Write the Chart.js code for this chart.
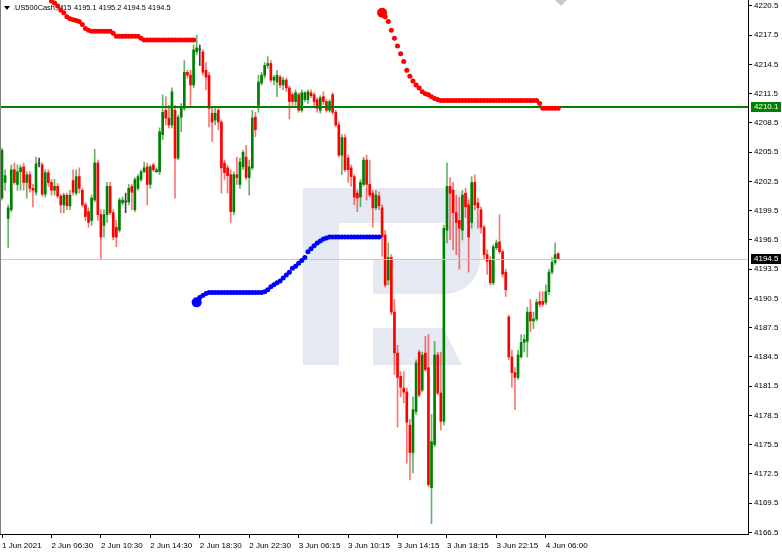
<!DOCTYPE html>
<html><head><meta charset="utf-8">
<script src="https://cdn.jsdelivr.net/npm/chart.js@4.4.1/dist/chart.umd.min.js"></script>
<style>html,body{margin:0;padding:0;background:#fff;}#wrap{width:782px;height:553px;position:relative;}</style>
</head><body><div id="wrap"><canvas id="c"></canvas></div>
<script>
const symbolTitle = ".US500Cash,M15";
const lastOHLC = [4195.1, 4195.2, 4194.5, 4194.5];
const levelPrice = 4210.1;
const bidPrice = 4194.5;

const opens = [4200.8,4202.4,4198.7,4199.6,4203.7,4202.2,4203.5,4204.0,4202.4,4203.2,
4201.8,4201.4,4204.3,4204.2,4201.2,4203.4,4202.4,4201.6,4202.0,4201.0,
4200.1,4201.1,4200.0,4202.6,4201.3,4203.0,4201.6,4200.1,4199.4,4198.5,
4200.6,4204.4,4199.1,4198.0,4199.1,4202.0,4199.3,4197.8,4197.5,4200.3,
4200.4,4200.4,4202.0,4199.6,4201.8,4202.7,4203.5,4204.0,4202.2,4204.2,
4203.5,4203.5,4207.3,4209.8,4209.0,4208.3,4209.8,4204.9,4209.1,4210.0,
4213.7,4213.4,4212.4,4215.8,4216.0,4215.8,4213.9,4213.4,4209.5,4208.8,
4209.8,4208.6,4204.4,4203.9,4203.2,4199.4,4203.2,4202.2,4204.0,4205.0,
4202.9,4203.9,4209.1,4210.3,4212.6,4213.4,4214.4,4214.6,4212.9,4212.7,
4213.2,4212.4,4212.9,4212.1,4211.4,4210.7,4211.4,4209.8,4210.9,4210.9,
4211.6,4211.4,4210.9,4209.8,4211.2,4210.7,4209.8,4211.4,4209.6,4208.3,
4205.2,4207.0,4204.9,4203.9,4203.0,4201.3,4200.9,4202.2,4204.7,4202.2,
4201.3,4199.8,4201.0,4199.8,4197.0,4192.4,4194.7,4189.1,4184.9,4182.5,
4181.3,4180.9,4177.5,4174.7,4178.9,4185.0,4181.1,4184.9,4183.4,4171.1,
4175.5,4184.7,4180.8,4177.9,4197.5,4202.0,4201.6,4199.3,4198.5,4197.5,
4201.3,4200.1,4198.3,4202.4,4200.3,4199.6,4197.8,4195.0,4194.5,4192.1,
4195.7,4196.3,4195.3,4193.2,4188.6,4184.5,4182.9,4182.4,4184.5,4186.0,
4186.1,4189.1,4188.2,4188.4,4190.2,4190.2,4190.1,4191.2,4193.2,4194.2,
4195.1];
const highs = [4205.9,4203.7,4200.1,4204.2,4204.4,4204.2,4204.2,4204.4,4203.5,4203.5,
4202.2,4205.0,4204.9,4204.4,4203.7,4203.7,4202.7,4202.7,4202.3,4201.2,
4201.3,4201.3,4201.6,4203.7,4203.7,4203.9,4201.8,4200.3,4199.8,4201.1,
4205.8,4204.7,4199.6,4199.6,4202.4,4202.4,4199.6,4198.5,4200.8,4200.9,
4201.3,4202.2,4202.2,4202.9,4203.2,4203.7,4204.5,4204.4,4204.2,4204.4,
4203.9,4208.0,4211.4,4211.2,4210.3,4212.1,4210.3,4209.3,4210.5,4214.9,
4213.9,4213.9,4216.5,4217.5,4216.5,4216.0,4214.7,4213.7,4210.0,4210.0,
4210.1,4208.8,4204.7,4204.2,4203.7,4203.5,4205.0,4204.9,4205.7,4206.2,
4204.7,4209.8,4209.6,4213.4,4213.7,4214.7,4215.3,4214.9,4213.4,4213.9,
4213.4,4213.2,4213.1,4212.3,4211.6,4211.9,4211.6,4211.9,4211.7,4211.9,
4211.9,4211.6,4211.1,4211.3,4211.7,4210.9,4210.9,4211.6,4209.8,4208.6,
4207.3,4207.3,4205.2,4204.2,4203.2,4201.6,4202.7,4205.0,4205.2,4204.7,
4201.6,4201.6,4201.4,4200.1,4197.5,4196.2,4195.0,4190.4,4185.7,4183.0,
4183.0,4181.3,4178.1,4180.4,4184.2,4185.2,4185.0,4186.6,4186.8,4178.6,
4186.1,4185.0,4185.0,4198.0,4204.4,4202.9,4202.4,4201.1,4200.9,4201.6,
4201.8,4200.6,4203.0,4203.2,4200.8,4199.9,4198.0,4195.5,4194.8,4196.0,
4196.5,4199.1,4195.5,4193.5,4188.8,4185.2,4183.4,4185.2,4186.8,4186.8,
4189.6,4190.4,4189.1,4190.4,4191.2,4191.2,4191.9,4193.5,4194.7,4196.2,
4195.2];
const lows = [4200.6,4201.6,4195.7,4199.4,4202.2,4201.6,4201.6,4201.6,4200.8,4201.4,
4199.9,4201.1,4204.0,4201.0,4200.9,4202.0,4201.1,4201.1,4200.8,4199.3,
4199.3,4199.6,4199.6,4201.1,4201.1,4201.3,4199.9,4198.5,4197.8,4198.0,
4200.4,4198.5,4194.5,4196.8,4198.3,4199.1,4196.5,4195.8,4197.3,4200.1,
4199.3,4200.1,4199.6,4199.4,4201.6,4202.5,4203.4,4200.1,4201.8,4203.5,
4203.4,4203.2,4206.8,4208.3,4208.0,4208.0,4200.8,4204.7,4207.6,4209.8,
4213.1,4210.3,4212.1,4215.5,4214.4,4213.4,4211.9,4208.1,4206.6,4208.3,
4207.8,4201.3,4202.7,4201.3,4198.3,4199.1,4202.2,4201.8,4203.7,4202.7,
4201.1,4203.7,4207.1,4209.6,4212.4,4213.1,4214.1,4212.7,4212.4,4211.2,
4212.1,4211.9,4211.7,4208.9,4210.3,4210.3,4209.6,4209.6,4210.7,4210.5,
4211.1,4210.3,4209.6,4209.5,4210.4,4209.6,4209.6,4209.4,4208.1,4205.0,
4203.2,4203.5,4202.4,4202.0,4200.1,4199.4,4199.9,4202.0,4200.6,4200.9,
4197.8,4199.6,4199.6,4194.8,4191.7,4191.9,4188.8,4182.7,4177.3,4180.4,
4179.8,4173.6,4171.9,4172.6,4178.6,4180.4,4180.9,4183.0,4171.2,4167.4,
4175.3,4180.6,4177.0,4177.5,4196.2,4196.5,4195.5,4195.0,4193.5,4196.5,
4198.8,4193.2,4197.7,4199.6,4197.7,4197.2,4194.5,4193.0,4191.9,4191.9,
4195.5,4195.1,4192.7,4190.7,4184.2,4181.4,4179.1,4182.2,4184.4,4185.0,
4184.5,4187.1,4187.4,4188.2,4189.6,4189.7,4189.9,4190.9,4193.0,4194.0,
4194.5];
const closes = [4205.7,4203.1,4199.8,4203.7,4202.4,4203.5,4203.9,4202.4,4203.2,4201.8,
4201.6,4204.3,4204.3,4201.2,4203.4,4202.4,4201.6,4202.0,4201.0,4200.1,
4201.1,4200.0,4201.1,4201.4,4203.0,4201.8,4200.1,4198.9,4198.3,4200.8,
4204.4,4199.1,4196.8,4199.1,4202.0,4199.3,4196.8,4196.8,4200.6,4200.6,
4200.4,4201.8,4201.4,4202.7,4203.0,4203.5,4203.9,4202.2,4204.0,4203.7,
4203.7,4207.6,4209.6,4209.0,4208.3,4211.7,4204.9,4209.1,4210.1,4213.7,
4213.4,4212.4,4216.0,4216.2,4216.0,4213.7,4213.2,4210.0,4208.6,4209.5,
4208.6,4203.9,4203.4,4203.1,4199.4,4203.2,4202.9,4204.5,4205.5,4202.9,
4204.0,4209.0,4207.8,4212.7,4213.4,4214.4,4214.6,4212.9,4213.2,4213.4,
4212.4,4212.9,4212.1,4210.7,4210.7,4211.6,4209.8,4211.6,4211.6,4211.7,
4211.3,4210.7,4210.0,4211.1,4210.7,4209.8,4210.7,4209.6,4208.3,4205.2,
4207.0,4203.7,4203.7,4203.0,4200.9,4200.8,4202.4,4204.7,4202.2,4201.1,
4199.8,4201.1,4200.0,4196.8,4191.9,4194.7,4189.1,4184.9,4182.4,4181.4,
4180.9,4177.8,4174.7,4179.1,4183.9,4180.6,4184.7,4183.2,4171.4,4175.8,
4184.7,4180.8,4177.9,4197.7,4202.0,4201.3,4199.3,4198.3,4197.7,4201.1,
4199.9,4196.8,4202.4,4200.1,4199.8,4197.8,4195.0,4194.3,4192.1,4195.8,
4196.2,4195.3,4193.0,4191.4,4184.5,4182.9,4182.4,4184.7,4186.0,4186.3,
4189.1,4188.2,4188.4,4190.1,4189.9,4189.9,4191.2,4193.2,4194.2,4195.0,
4194.5];
const sarRed = [null,null,null,null,null,null,null,null,null,null,
null,null,null,null,null,null,4221.0,4220.8,4220.5,4220.1,
4219.8,4219.4,4219.2,4219.1,4219.0,4218.9,4218.6,4218.2,4218.0,4217.9,
4217.9,4217.9,4217.9,4217.9,4217.9,4217.9,4217.7,4217.4,4217.4,4217.4,
4217.4,4217.4,4217.4,4217.4,4217.4,4217.2,4217.0,4217.0,4217.0,4217.0,
4217.0,4217.0,4217.0,4217.0,4217.0,4217.0,4217.0,4217.0,4217.0,4217.0,
4217.0,4217.0,4217.0,null,null,null,null,null,null,null,
null,null,null,null,null,null,null,null,null,null,
null,null,null,null,null,null,null,null,null,null,
null,null,null,null,null,null,null,null,null,null,
null,null,null,null,null,null,null,null,null,null,
null,null,null,null,null,null,null,null,null,null,
null,null,null,4219.8,4219.4,4218.9,4218.0,4217.2,4216.4,4215.6,
4214.8,4213.9,4213.3,4212.8,4212.4,4212.1,4211.7,4211.5,4211.4,4211.2,
4211.0,4210.9,4210.8,4210.8,4210.8,4210.8,4210.8,4210.8,4210.8,4210.8,
4210.8,4210.8,4210.8,4210.8,4210.8,4210.8,4210.8,4210.8,4210.8,4210.8,
4210.8,4210.8,4210.8,4210.8,4210.8,4210.8,4210.8,4210.8,4210.8,4210.8,
4210.8,4210.8,4210.8,4210.8,4210.5,4210.0,4210.0,4210.0,4210.0,4210.0,
4210.0];
const sarBlue = [null,null,null,null,null,null,null,null,null,null,
null,null,null,null,null,null,null,null,null,null,
null,null,null,null,null,null,null,null,null,null,
null,null,null,null,null,null,null,null,null,null,
null,null,null,null,null,null,null,null,null,null,
null,null,null,null,null,null,null,null,null,null,
null,null,null,4190.1,4190.6,4190.8,4191.0,4191.1,4191.1,4191.1,
4191.1,4191.1,4191.1,4191.1,4191.1,4191.1,4191.1,4191.1,4191.1,4191.1,
4191.1,4191.1,4191.1,4191.1,4191.1,4191.2,4191.4,4191.7,4191.9,4192.1,
4192.3,4192.6,4192.9,4193.2,4193.6,4193.8,4194.1,4194.4,4194.7,4195.3,
4195.6,4195.9,4196.2,4196.4,4196.6,4196.7,4196.8,4196.8,4196.8,4196.8,
4196.8,4196.8,4196.8,4196.8,4196.8,4196.8,4196.8,4196.8,4196.8,4196.8,
4196.8,4196.8,4196.8,null,null,null,null,null,null,null,
null,null,null,null,null,null,null,null,null,null,
null,null,null,null,null,null,null,null,null,null,
null,null,null,null,null,null,null,null,null,null,
null,null,null,null,null,null,null,null,null,null,
null,null,null,null,null,null,null,null,null,null,
null];
const xTickBars = [0,16,32,48,64,80,96,112,128,144,160,176];
const xTickLabels = ["1 Jun 2021","2 Jun 06:30","2 Jun 10:30","2 Jun 14:30","2 Jun 18:30","2 Jun 22:30","3 Jun 06:15","3 Jun 10:15","3 Jun 14:15","3 Jun 18:15","3 Jun 22:15","4 Jun 06:00"];
const yTicks = [4220.5,4217.5,4214.5,4211.5,4208.5,4205.5,4202.5,4199.5,4196.5,4193.5,4190.5,4187.5,4184.5,4181.5,4178.5,4175.5,4172.5,4169.5,4166.5];

const FONT = 'Liberation Sans';
Chart.defaults.font.family = FONT;
Chart.defaults.font.size = 8;
Chart.defaults.color = '#000';

const up = i => closes[i] > opens[i];
const dn = i => closes[i] < opens[i];
const bodyColors = opens.map((o,i) => up(i) ? '#008000' : dn(i) ? '#ff0000' : '#404040');
const wickColors = opens.map((o,i) => up(i) ? 'rgba(0,128,0,0.6)' : dn(i) ? 'rgba(255,0,0,0.55)' : '#404040');
const bodyData = opens.map((o,i) => ({x:i, y:[o, closes[i]]}));
const wickData = opens.map((o,i) => ({x:i, y:[lows[i], highs[i]]}));
const redData = sarRed.map((v,i) => ({x:i, y:v}));
const blueData = sarBlue.map((v,i) => ({x:i, y:v}));
const redR = sarRed.map((v,i) => (v != null && i > 0 && sarRed[i-1] == null && sarBlue[i-1] != null) ? 5 : 2.5);
const blueR = sarBlue.map((v,i) => (v != null && i > 0 && sarBlue[i-1] == null && sarRed[i-1] != null) ? 5 : 2.5);

const noPad = s => { s.paddingTop = 0; s.paddingBottom = 0; s.paddingLeft = 0; s.paddingRight = 0; };

const deco = {
  id: 'deco',
  beforeDatasetsDraw(chart) {
    const ctx = chart.ctx, a = chart.chartArea;
    ctx.save();
    ctx.beginPath(); ctx.rect(a.left, a.top, a.right - a.left, a.bottom - a.top); ctx.clip();
    // watermark logo
    ctx.fillStyle = '#e5eaf2';
    ctx.fillRect(303, 188, 36, 177);
    ctx.fillRect(303, 188, 142, 35);
    ctx.beginPath();
    ctx.moveTo(373, 188); ctx.lineTo(445, 188); ctx.arcTo(480, 188, 480, 223, 35);
    ctx.lineTo(480, 259); ctx.arcTo(480, 294, 445, 294, 35); ctx.lineTo(373, 294); ctx.closePath();
    ctx.moveTo(373, 223); ctx.lineTo(373, 259); ctx.lineTo(446, 259); ctx.lineTo(446, 223); ctx.closePath();
    ctx.fill('evenodd');
    ctx.beginPath();
    ctx.moveTo(373, 328); ctx.lineTo(443, 328); ctx.lineTo(462, 365); ctx.lineTo(373, 365); ctx.closePath();
    ctx.fill();
    // title
    ctx.fillStyle = '#000';
    ctx.beginPath(); ctx.moveTo(4, 6); ctx.lineTo(10, 6); ctx.lineTo(7, 10); ctx.closePath(); ctx.fill();
    ctx.font = '7.4px ' + FONT;
    ctx.textBaseline = 'middle'; ctx.textAlign = 'left';
    ctx.fillText(symbolTitle, 13, 8);
    ctx.fillText(lastOHLC.map(v => v.toFixed(1)).join(' '), 74, 8);
    ctx.restore();
  },
  afterDatasetDraw(chart, args) {
    if (args.index !== 2) return;
    const ctx = chart.ctx, a = chart.chartArea, y = chart.scales.y;
    ctx.save();
    const yb = Math.round(y.getPixelForValue(bidPrice)) + 0.5;
    ctx.strokeStyle = '#c8c8c8'; ctx.lineWidth = 1;
    ctx.beginPath(); ctx.moveTo(a.left, yb); ctx.lineTo(a.right, yb); ctx.stroke();
    const yl = Math.round(y.getPixelForValue(levelPrice));
    ctx.strokeStyle = '#008000'; ctx.lineWidth = 2;
    ctx.beginPath(); ctx.moveTo(a.left, yl); ctx.lineTo(a.right, yl); ctx.stroke();
    ctx.restore();
  },
  afterDraw(chart) {
    const ctx = chart.ctx, a = chart.chartArea, y = chart.scales.y;
    ctx.save();
    ctx.strokeStyle = '#808080'; ctx.lineWidth = 1;
    ctx.beginPath(); ctx.moveTo(0.5, a.top); ctx.lineTo(0.5, a.bottom); ctx.stroke();
    // chart shift marker
    ctx.fillStyle = '#c8c8c8';
    ctx.beginPath(); ctx.moveTo(555, 0); ctx.lineTo(567, 0); ctx.lineTo(561, 6); ctx.closePath(); ctx.fill();
    ctx.font = '8px ' + FONT; ctx.textBaseline = 'middle'; ctx.textAlign = 'left';
    const yl = Math.round(y.getPixelForValue(levelPrice));
    ctx.fillStyle = '#008000'; ctx.fillRect(a.right + 3, yl - 5, 30, 10);
    ctx.fillStyle = '#fff'; ctx.fillText(levelPrice.toFixed(1), a.right + 6, yl);
    const yb = Math.round(y.getPixelForValue(bidPrice));
    ctx.fillStyle = '#000'; ctx.fillRect(a.right + 3, yb - 5, 30, 10);
    ctx.fillStyle = '#fff'; ctx.fillText(bidPrice.toFixed(1), a.right + 6, yb);
    ctx.restore();
  }
};

new Chart(document.getElementById('c'), {
  type: 'bar',
  data: {
    datasets: [
      { type: 'line', data: redData, showLine: false, pointRadius: redR, pointBackgroundColor: '#ff0000', pointBorderWidth: 0, pointBorderColor: '#ff0000', order: 0 },
      { type: 'line', data: blueData, showLine: false, pointRadius: blueR, pointBackgroundColor: '#0000ff', pointBorderWidth: 0, pointBorderColor: '#0000ff', order: 0 },
      { type: 'bar', data: bodyData, backgroundColor: bodyColors, barThickness: 2, minBarLength: 1, grouped: false, order: 2 },
      { type: 'bar', data: wickData, backgroundColor: wickColors, barThickness: 1, grouped: false, order: 3 }
    ]
  },
  options: {
    responsive: true, maintainAspectRatio: false, animation: false, devicePixelRatio: 1,
    events: [],
    layout: { padding: 0, autoPadding: false },
    plugins: { legend: { display: false }, tooltip: { enabled: false } },
    scales: {
      x: {
        type: 'linear', min: -0.65, max: 241.42, offset: false,
        grid: { display: true, drawOnChartArea: false, drawTicks: true, tickLength: 4, tickColor: '#000', offset: false },
        border: { display: true, color: '#000' },
        afterBuildTicks: s => { s.ticks = xTickBars.map(v => ({ value: v })); },
        afterFit: s => { s.height = 19; noPad(s); },
        ticks: { autoSkip: false, maxRotation: 0, align: 'start', padding: 3, font: { size: 8 },
          callback: v => { const k = xTickBars.indexOf(v); return k >= 0 ? xTickLabels[k] : ''; } }
      },
      y: {
        type: 'linear', position: 'right', min: 4166.34, max: 4221.115, beginAtZero: false,
        grid: { display: true, drawOnChartArea: false, drawTicks: true, tickLength: 4, tickColor: '#000' },
        border: { display: true, color: '#000' },
        afterBuildTicks: s => { s.ticks = yTicks.map(v => ({ value: v })); },
        afterFit: s => { s.width = 34; noPad(s); },
        ticks: { padding: 2, font: { size: 8 }, callback: v => Number(v).toFixed(1) }
      }
    }
  },
  plugins: [deco]
});
</script>
</body></html>
